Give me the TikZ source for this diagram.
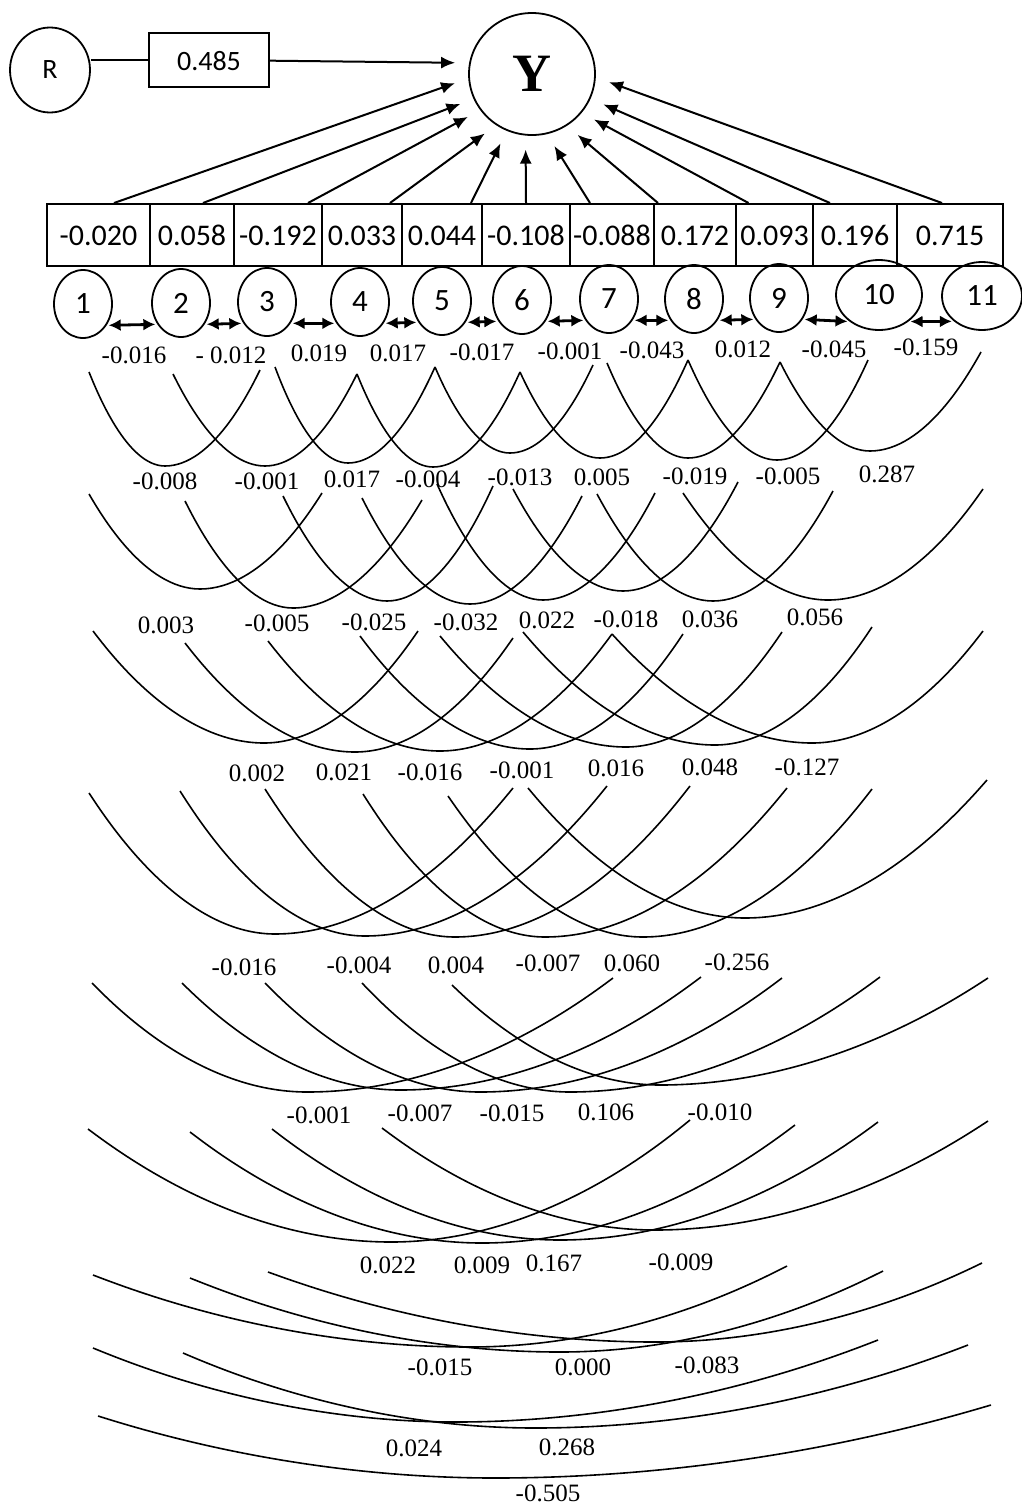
\documentclass[tikz,border=0pt]{standalone}
\usepackage{fontspec}
\setmainfont{Liberation Serif}
\newfontfamily\calib{Carlito}
\usetikzlibrary{shapes.geometric,arrows.meta}

\begin{document}
\begin{tikzpicture}[x=0.5pt,y=-0.5pt,
  var/.style={draw,ellipse,line width=0.9pt,inner sep=0pt,font=\calib\fontsize{15.5}{18}\selectfont},
  cell/.style={draw,rectangle,line width=1pt,inner sep=0pt,minimum height=31pt,text height=10pt,text depth=0pt,font=\calib\fontsize{15}{18}\selectfont},
  val/.style={inner sep=0pt,font=\fontsize{12.5}{14}\selectfont},
  effect/.style={line width=1pt,-{Latex[length=7pt,width=6pt]},shorten >=7pt},
  dbl/.style={line width=1.4pt,{Latex[length=6pt,width=6pt]}-{Latex[length=6pt,width=6pt]},shorten >=1pt,shorten <=1pt},
  corr/.style={line width=0.8pt}]
 \useasboundingbox (0,0) rectangle (1022,1505);
 \node[var,minimum width=40pt,minimum height=42.5pt,font=\calib\fontsize{14}{16}\selectfont] (R) at (50,70) {R};
 \node[cell,minimum width=60pt,minimum height=27pt,font=\calib\fontsize{14}{16}\selectfont] (r) at (209,60) {0.485};
 \node[var,minimum width=63pt,minimum height=61pt,font=\rmfamily\bfseries\fontsize{27}{30}\selectfont] (Y) at (532,74) {Y};
 \draw[line width=1pt] (R.east |- r.west) -- (r.west);
 \draw[effect] (r) -- (Y.170);
 \foreach \i/\xa/\xb/\v in {1/47/150/-0.020,2/150/234/0.058,3/234/322/-0.192,4/322/402/0.033,
   5/402/482/0.044,6/482/570/-0.108,7/570/654/-0.088,8/654/736/0.172,9/736/813/0.093,
   10/813/897/0.196,11/897/1003/0.715}
   \node[cell,minimum width=(\xb-\xa)*0.5pt] (b\i) at ({(\xa+\xb)/2},235) {\v};
 \foreach \i/\s/\a in {1/7.75pt/184.5,2/5.5pt/203.8,3/15pt/215.4,4/14pt/235.5,5/14.5pt/246.4,
   6/0pt/264,7/-11pt/284,8/-18.5pt/304.9,9/-13pt/322.5,10/-12.5pt/337.8,11/-4pt/357.7}
   \draw[effect] ([xshift=\s]b\i.north) -- (Y.\a);
 \foreach \i/\x/\y in {1/83/304,2/181/303,3/267/302,4/360/302,5/442/301,6/522/300,
   7/609/299,8/694/299,9/779/298}
   \node[var,minimum width=29pt,minimum height=34pt] (v\i) at (\x,\y) {\i};
 \node[var,minimum width=43pt,minimum height=35pt] (v10) at (879,295) {10};
 \node[var,minimum width=40pt,minimum height=34pt] (v11) at (982,296) {11};
 \foreach \i/\j in {1/2,2/3,3/4,4/5,5/6,6/7,7/8,8/9,9/10,10/11}
   \draw[dbl] (v\i.-42) -- (v\j.222);
 \foreach \xa/\ya/\xb/\yb/\xc/\yc in {
   89/372/165/466/260/370, 173/374/265/466/357/374, 275/367/348/463/435/367,
   357/374/433/467/520/372, 435/367/510/453/593/365, 520/372/600/458/688/360,
   607/363/688/458/780/362, 688/360/777/460/868/360, 780/362/870/451/981/352,
   89/494/200/589/322/493, 185/501/293/608/422/500, 283/496/387/601/493/486,
   362/498/470/604/582/496, 437/484/543/600/655/493, 513/489/623/591/738/482,
   597/494/713/601/833/491, 683/493/828/600/983/489,
   93/631/264/743/418/631, 185/643/355/752/513/638, 268/641/440/751/612/634,
   360/636/530/749/683/634, 440/636/626/747/782/632, 523/632/715/745/872/627,
   612/634/812/743/983/631,
   89/793/275/934/513/788, 180/791/365/936/607/786, 265/789/455/937/690/786,
   363/794/545/937/787/788, 448/796/643/937/872/789, 528/788/745/918/987/780,
   92/983/307/1092/613/978, 182/983/400/1090/701/977, 265/983/480/1092/782/978,
   362/983/570/1092/880/977, 452/985/660/1085/988/978,
   88/1129/391/1242/690/1120, 190/1132/482/1243/795/1125, 272/1129/560/1240/878/1122,
   382/1128/655/1230/988/1121,
   93/1275/470/1347/787/1266, 190/1278/560/1352/883/1271, 268/1272/655/1342/982/1263,
   93/1348/456/1422/878/1340, 183/1353/535/1428/968/1345,
   98/1416/495/1478/991/1405}
   \draw[corr] (\xa,\ya) parabola bend (\xb,\yb) (\xc,\yc);
 \foreach \x/\y/\v [count=\k] in {
   134/355/-0.016, 231/355/- 0.012, 319/353/0.019, 398/353/0.017, 482/352/-0.017,
   570/351/-0.001, 652/350/-0.043, 743/349/0.012, 834/349/-0.045, 926/347/-0.159,
   165/481/-0.008, 267/481/-0.001, 352/479/0.017, 428/479/-0.004, 520/477/-0.013,
   602/477/0.005, 695/476/-0.019, 788/476/-0.005, 887/474/0.287,
   166/625/0.003, 277/623/-0.005, 374/622/-0.025, 466/622/-0.032, 547/620/0.022,
   626/619/-0.018, 710/619/0.036, 815/617/0.056,
   257/773/0.002, 344/772/0.021, 430/772/-0.016, 522/770/-0.001, 616/768/0.016,
   710/767/0.048, 807/767/-0.127,
   244/967/-0.016, 359/965/-0.004, 456/965/0.004, 548/963/-0.007, 632/963/0.060,
   737/962/-0.256,
   319/1115/-0.001, 420/1113/-0.007, 512/1113/-0.015, 606/1112/0.106, 720/1112/-0.010,
   388/1265/0.022, 482/1265/0.009, 554/1263/0.167, 681/1262/-0.009,
   440/1367/-0.015, 583/1367/0.000, 707/1365/-0.083,
   414/1448/0.024, 567/1447/0.268,
   548/1493/-0.505}
   \node[val] (p\k) at (\x,\y) {\v};
\end{tikzpicture}
\end{document}
